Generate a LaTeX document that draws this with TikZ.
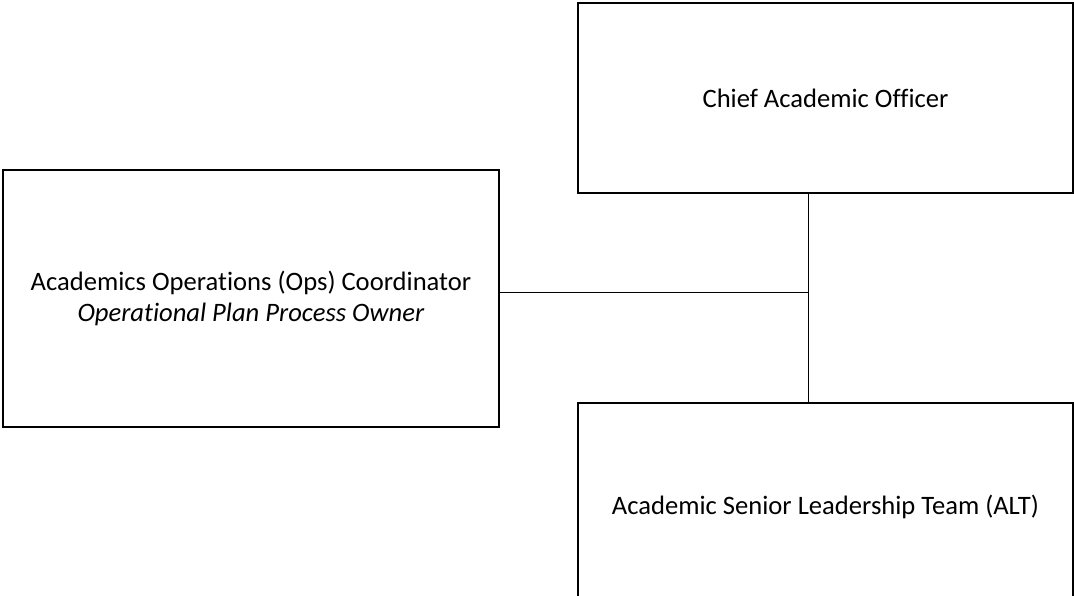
\documentclass[tikz,border=0pt]{standalone}
\usepackage{fontspec}
\setmainfont[Ligatures=NoCommon]{Carlito}
\usepackage{tikz}
\usetikzlibrary{positioning, calc}
\tikzset{
role/.style={draw, line width=2pt, align=center, minimum width=495pt}, % sets the properties for each box
link/.style={line width=1pt}, % the thin lines joining the boxes
}

\begin{document}
\begin{tikzpicture}[x=1pt, y=-1pt, font=\fontsize{26.6}{31}\selectfont]
\useasboundingbox (0,0) rectangle (1074,595);
\clip (0,0) rectangle (1074,595);
\node[role, minimum height=190pt] (cao) at (825.5,98) {Chief Academic Officer};
\node[role, minimum width=496pt, minimum height=257pt] (ops) at (251,298.5) {Academics Operations (Ops) Coordinator\\ \textit{Operational Plan Process Owner}};
\node[role, minimum height=208pt] (alt) at (825.5,507) {Academic Senior Leadership Team (ALT)};
\coordinate (jn) at (808,292);
\draw[link]
(cao.south -| jn) -- (alt.north -| jn)
(ops.east |- jn) -- (jn)
;
\end{tikzpicture}
\end{document}
